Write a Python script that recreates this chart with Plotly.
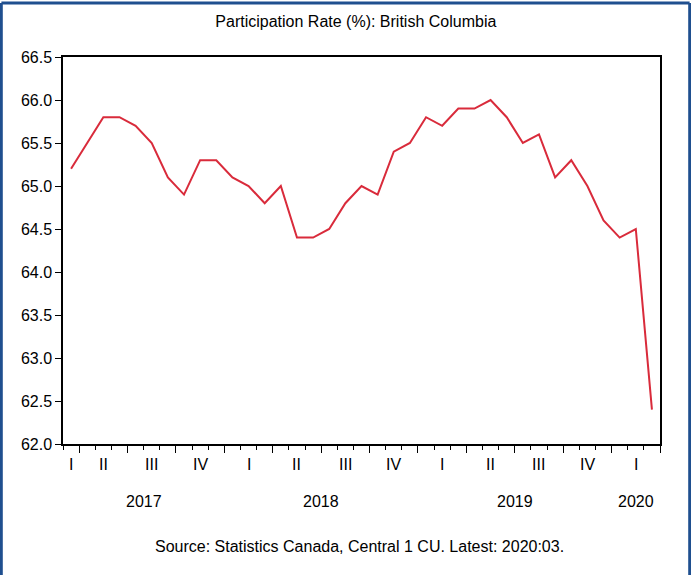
import plotly.graph_objects as go

# ---- data ----
months = [
    "2017-03", "2017-04", "2017-05", "2017-06", "2017-07", "2017-08", "2017-09", "2017-10", "2017-11", "2017-12",
    "2018-01", "2018-02", "2018-03", "2018-04", "2018-05", "2018-06", "2018-07", "2018-08", "2018-09", "2018-10", "2018-11", "2018-12",
    "2019-01", "2019-02", "2019-03", "2019-04", "2019-05", "2019-06", "2019-07", "2019-08", "2019-09", "2019-10", "2019-11", "2019-12",
    "2020-01", "2020-02", "2020-03",
]
participation_rate = [
    65.2, 65.5, 65.8, 65.8, 65.7, 65.5, 65.1, 64.9, 65.3, 65.3,
    65.1, 65.0, 64.8, 65.0, 64.4, 64.4, 64.5, 64.8, 65.0, 64.9, 65.4, 65.5,
    65.8, 65.7, 65.9, 65.9, 66.0, 65.8, 65.5, 65.6, 65.1, 65.3, 65.0, 64.6,
    64.4, 64.5, 62.4,
]
quarter_names = ["I", "II", "III", "IV"]
y_ticks = [62.0, 62.5, 63.0, 63.5, 64.0, 64.5, 65.0, 65.5, 66.0, 66.5]
title_text = "Participation Rate (%): British Columbia"
source_text = "Source: Statistics Canada, Central 1 CU. Latest: 2020:03."

# ---- derived positions (month index axis) ----
x_idx = list(range(len(months)))
years = [int(m[:4]) for m in months]
mons = [int(m[5:]) for m in months]
quarters = [(mo - 1) // 3 for mo in mons]

# month boundaries and quarter boundaries
minor_vals = [i - 0.5 for i in range(len(months) + 1)]
major_vals = []
for i in range(len(months) + 1):
    if i == len(months):
        nxt_m = mons[-1] % 12 + 1
        if (nxt_m - 1) % 3 == 0:
            major_vals.append(i - 0.5)
    elif i > 0 and (mons[i] - 1) % 3 == 0:
        major_vals.append(i - 0.5)
    elif i == 0 and (mons[0] - 1) % 3 == 0:
        major_vals.append(-0.5)

# quarter / year groups
q_groups = {}
for i, (y, q) in enumerate(zip(years, quarters)):
    q_groups.setdefault((y, q), []).append(i)
y_groups = {}
for i, y in enumerate(years):
    y_groups.setdefault(y, []).append(i)

FONT = "Arial, 'Liberation Sans', sans-serif"
line_color = "#d92b3b"
border_color = "#1f4f8f"

fig = go.Figure()
fig.add_trace(go.Scatter(
    x=x_idx, y=participation_rate, mode="lines",
    line=dict(color=line_color, width=2), hoverinfo="skip", showlegend=False,
))

annotations = []
for (y, q), idxs in q_groups.items():
    annotations.append(dict(
        x=(min(idxs) + max(idxs)) / 2, y=-0.054, xref="x", yref="paper",
        text=quarter_names[q], showarrow=False, yanchor="middle",
        font=dict(family=FONT, size=16, color="black"),
    ))
for y, idxs in y_groups.items():
    annotations.append(dict(
        x=(min(idxs) + max(idxs)) / 2, y=-0.149, xref="x", yref="paper",
        text=str(y), showarrow=False, yanchor="middle",
        font=dict(family=FONT, size=16, color="black"),
    ))
annotations.append(dict(
    x=0.497, y=-0.265, xref="paper", yref="paper", text=source_text,
    showarrow=False, yanchor="middle",
    font=dict(family=FONT, size=16, color="black"),
))

L, T, PW, PH = 63, 57, 597, 387
def px_x(p):
    return (p - L) / PW
def px_y(p):
    return (T + PH - p) / PH

bx0, bx1, by0, by1 = px_x(1.4), px_x(689.6), px_y(590), px_y(3.0)
border = [
    dict(type="line", xref="paper", yref="paper", x0=bx0, x1=bx1, y0=by1, y1=by1,
         line=dict(color=border_color, width=2.8), layer="above"),
    dict(type="line", xref="paper", yref="paper", x0=bx0, x1=bx0, y0=by0, y1=by1,
         line=dict(color=border_color, width=2.8), layer="above"),
    dict(type="line", xref="paper", yref="paper", x0=bx1, x1=bx1, y0=by0, y1=by1,
         line=dict(color=border_color, width=2.8), layer="above"),
]

fig.update_layout(
    width=691, height=575,
    margin=dict(l=L, r=691 - L - PW, t=T, b=575 - T - PH, autoexpand=False),
    paper_bgcolor="white", plot_bgcolor="white",
    title=dict(text=title_text, x=0.515, xanchor="center", y=1 - 21 / 575,
               yanchor="middle", yref="container",
               font=dict(family=FONT, size=16, color="black")),
    annotations=annotations,
    shapes=border,
    xaxis=dict(
        range=[-0.5, len(months) - 0.5], showgrid=False, zeroline=False,
        showline=True, linecolor="black", linewidth=1.5, mirror=True,
        tickmode="array", tickvals=major_vals, showticklabels=False,
        ticks="outside", ticklen=7, tickwidth=1.2, tickcolor="black",
        minor=dict(tickmode="array", tickvals=minor_vals, ticks="outside",
                   ticklen=4, tickwidth=1, tickcolor="black", showgrid=False),
    ),
    yaxis=dict(
        range=[62.0, 66.5], showgrid=False, zeroline=False,
        showline=True, linecolor="black", linewidth=1.5, mirror=True,
        tickmode="array", tickvals=y_ticks, ticktext=[f"{v:.1f}" for v in y_ticks],
        ticks="outside", ticklen=6, tickwidth=1.2, tickcolor="black",
        tickfont=dict(family=FONT, size=16, color="black"),
    ),
)

fig.write_html(
    "out.html",
    config={"displayModeBar": False},
    post_script="document.body.style.margin='0';document.body.style.overflow='hidden';",
)
